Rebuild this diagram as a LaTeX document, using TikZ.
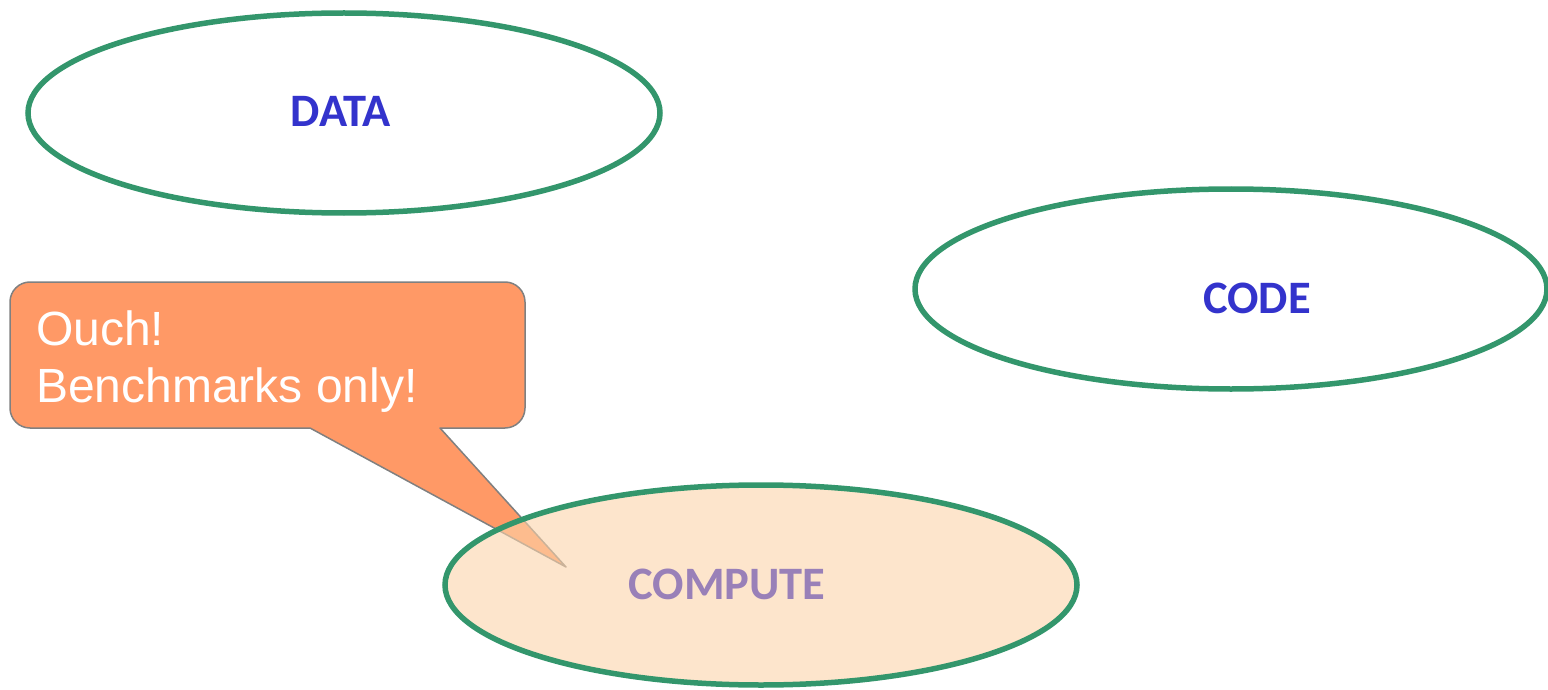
\documentclass[tikz,border=0pt]{standalone}
\usepackage{fontspec}
\setmainfont{Liberation Sans}
\newfontfamily\labelfont{Carlito}
\usetikzlibrary{shapes.geometric}

\definecolor{ringgreen}{RGB}{51,150,108}
\definecolor{nameblue}{RGB}{51,51,204}
\definecolor{namepurple}{RGB}{153,128,184}
\definecolor{computefill}{RGB}{252,212,170}
\definecolor{calloutfill}{RGB}{255,153,102}
\definecolor{calloutline}{RGB}{128,128,128}

\tikzset{
  ring/.style={ellipse, draw=ringgreen, line width=5.5pt, inner sep=0pt,
    minimum width=632pt, minimum height=200pt},
  areaname/.style={inner sep=0pt, font=\labelfont\bfseries\fontsize{46.5}{50}\selectfont},
  bubble/.style={fill=calloutfill, draw=calloutline, line width=1.5pt, line join=round},
  bubbletext/.style={anchor=base west, inner sep=0pt, text=white,
    font=\fontsize{48}{57}\selectfont},
}

\begin{document}
\begin{tikzpicture}[x=1pt, y=-1pt]
  \useasboundingbox (0,0) rectangle (1548,690);

  % the three areas
  \node[ring] (data) at (344,113) {};
  \node[areaname, text=nameblue] (datalabel) at (341,111) {DATA};

  \node[ring] (code) at (1231,289) {};
  \node[areaname, text=nameblue] (codelabel) at (1257,298) {CODE};

  % speech bubble pointing into the compute area
  \coordinate (tip) at (566,567);
  \draw[bubble] (440,428) -- (505,428)
    arc[start angle=90, end angle=0, radius=20] -- (525,302)
    arc[start angle=0, end angle=-90, radius=20] -- (30,282)
    arc[start angle=-90, end angle=-180, radius=20] -- (10,408)
    arc[start angle=180, end angle=90, radius=20] -- (310,428)
    -- (tip) -- cycle;
  \node[bubbletext] (ouch) at (36,345) {Ouch!};
  \node[bubbletext] (bench) at (36,402) {Benchmarks only!};

  \node[ring, fill=computefill, fill opacity=0.6, draw opacity=1] (compute) at (761,585) {};
  \node[areaname, text=namepurple] (computelabel) at (727,584) {COMPUTE};
\end{tikzpicture}
\end{document}
